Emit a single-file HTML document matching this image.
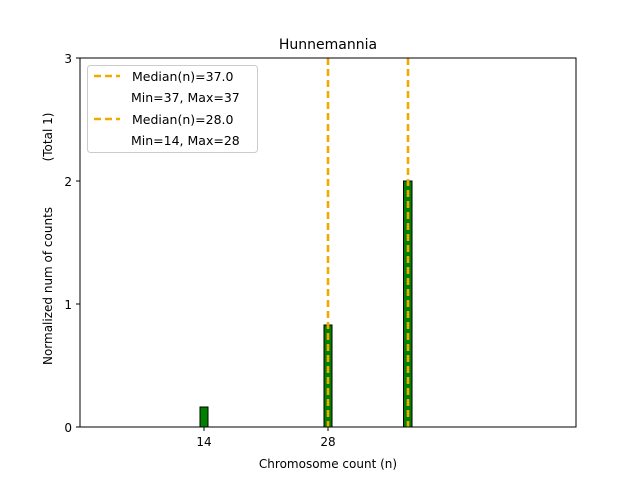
<!DOCTYPE html>
<html><head><meta charset="utf-8"><style>body{margin:0;background:#fff}text{white-space:pre}</style></head><body>
<svg width="640" height="480" xmlns="http://www.w3.org/2000/svg" font-family="DejaVu Sans, Liberation Sans, sans-serif">
<rect width="640" height="480" fill="#fff"/>
<text x="328" y="49" font-size="14" text-anchor="middle">Hunnemannia</text>
<rect x="200" y="407" width="8" height="20" fill="#008000" stroke="#000" stroke-width="1"/>
<rect x="324" y="325" width="8" height="102" fill="#008000" stroke="#000" stroke-width="1"/>
<rect x="403.5" y="181" width="8.5" height="246" fill="#008000" stroke="#000" stroke-width="1"/>
<line x1="80" y1="427" x2="438" y2="427" stroke="#000" stroke-width="1"/>
<line x1="328" y1="58" x2="328" y2="427" stroke="#f2a900" stroke-width="2.6" stroke-dasharray="7,4"/>
<line x1="408" y1="58" x2="408" y2="427" stroke="#f2a900" stroke-width="2.6" stroke-dasharray="7,4"/>
<rect x="80" y="58" width="496" height="369" fill="none" stroke="#000" stroke-width="1"/>
<g stroke="#000"><line x1="204" y1="427" x2="204" y2="431"/><line x1="328" y1="427" x2="328" y2="431"/>
<line x1="76" y1="427" x2="80" y2="427"/><line x1="76" y1="304" x2="80" y2="304"/><line x1="76" y1="181" x2="80" y2="181"/><line x1="76" y1="58" x2="80" y2="58"/></g>
<g font-size="12" text-anchor="middle"><text x="204" y="446">14</text><text x="328" y="446">28</text>
<text x="328" y="468">Chromosome count (n)</text></g>
<g font-size="12" text-anchor="end"><text x="72" y="432">0</text><text x="72" y="309">1</text><text x="72" y="186">2</text><text x="72" y="63">3</text></g>
<text transform="translate(52,286) rotate(-90)" font-size="12" text-anchor="middle">Normalized num of counts</text>
<text transform="translate(52,137) rotate(-90)" font-size="12" text-anchor="middle">(Total 1)</text>
<rect x="87.5" y="65.5" width="170" height="87" rx="3" fill="#fff" fill-opacity="0.8" stroke="#ccc"/>
<g stroke="#f2a900" stroke-width="2.6"><line x1="94" y1="76" x2="120" y2="76" stroke-dasharray="7,4"/><line x1="94" y1="119" x2="120" y2="119" stroke-dasharray="7,4"/></g>
<g font-size="12.5"><text x="132" y="81">Median(n)=37.0</text><text x="131" y="102">Min=37, Max=37</text>
<text x="132" y="124">Median(n)=28.0</text><text x="131" y="145">Min=14, Max=28</text></g>
</svg>
</body></html>
